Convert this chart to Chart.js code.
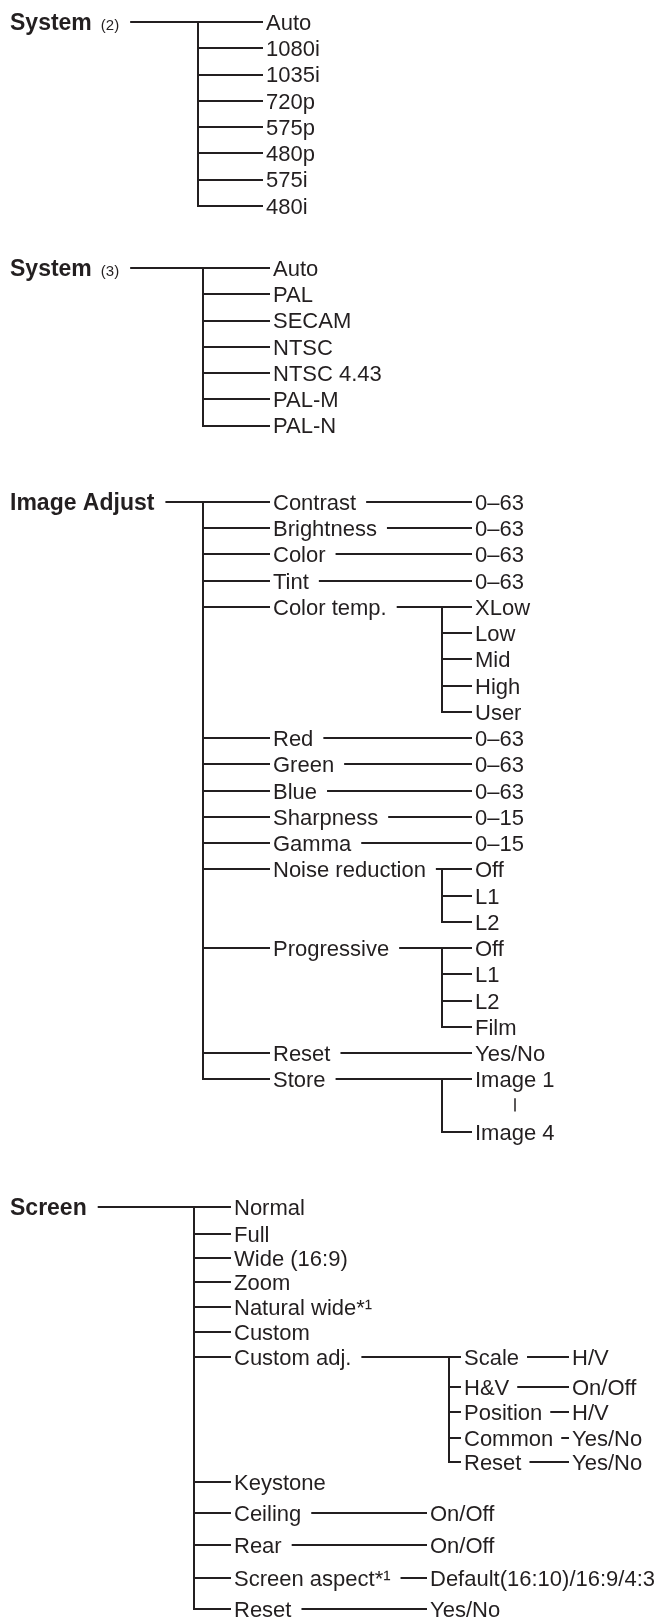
<!DOCTYPE html>
<html>
<head>
<meta charset="utf-8">
<script src="https://cdn.jsdelivr.net/npm/chart.js@4.4.0/dist/chart.umd.min.js"></script>
<style>
  html, body { margin: 0; padding: 0; background: #fff; }
  #wrap { width: 664px; height: 1618px; position: relative; }
</style>
</head>
<body>
<div id="wrap"><canvas id="menuChart"></canvas></div>
<script>
// menu headings (rows are in line units)
const menuTitles = ['System', 'System', 'Image Adjust', 'Screen'];
const menuNotes = ['(2)', '(3)', '', ''];
const menuRows = [0.84, 10.21, 19.12, 45.98];

// System (2)
const system2Items = ['Auto', '1080i', '1035i', '720p', '575p', '480p', '575i', '480i'];

// System (3)
const system3Items = ['Auto', 'PAL', 'SECAM', 'NTSC', 'NTSC 4.43', 'PAL-M', 'PAL-N'];

// Image Adjust
const imageItems = ['Contrast', 'Brightness', 'Color', 'Tint', 'Color temp.', 'Red', 'Green', 'Blue',
    'Sharpness', 'Gamma', 'Noise reduction', 'Progressive', 'Reset', 'Store'];
const imageRows = [0, 1, 2, 3, 4, 9, 10, 11, 12, 13, 14, 17, 21, 22];
const imageValues = [
    ['0–63'], ['0–63'], ['0–63'], ['0–63'],
    ['XLow', 'Low', 'Mid', 'High', 'User'],
    ['0–63'], ['0–63'], ['0–63'], ['0–15'], ['0–15'],
    ['Off', 'L1', 'L2'],
    ['Off', 'L1', 'L2', 'Film'],
    ['Yes/No'],
    ['Image 1', '|', 'Image 4']
];

// Screen
const screenItems = ['Normal', 'Full', 'Wide (16:9)', 'Zoom', 'Natural wide*¹', 'Custom', 'Custom adj.',
    'Keystone', 'Ceiling', 'Rear', 'Screen aspect*¹', 'Reset'];
const screenRows = [0, 1.03, 1.94, 2.86, 3.81, 4.76, 5.71, 10.48, 11.66, 12.88, 14.13, 15.31];
const screenValues = [[], [], [], [], [], [], [], [], ['On/Off'], ['On/Off'], ['Default(16:10)/16:9/4:3'], ['Yes/No']];
const customAdjItems = ['Scale', 'H&V', 'Position', 'Common', 'Reset'];
const customAdjRows = [0, 1.15, 2.1, 3.1, 4.0];
const customAdjValues = ['H/V', 'On/Off', 'H/V', 'Yes/No', 'Yes/No'];

// layout: column positions on the x scale, one set per menu
const columns = [
    { trunk: 198, label: 266 },
    { trunk: 203, label: 273 },
    { trunk: 203, label: 273, subTrunk: 442, subLabel: 475 },
    { trunk: 194, label: 234, valueLabel: 430, subTrunk: 449, subLabel: 464, leafLabel: 572 }
];
const HEAD_X = 10;
const ROW_PX = 26.25;
const INK = '#231f20';
const FONT = '"Liberation Sans", Arial, Helvetica, sans-serif';

const nodes = [];
const links = [];
const ticks = [];

function addNode(x, y, text, opts) {
    const o = opts || {};
    nodes.push({ x: x, y: y, text: text, size: o.size || 22, bold: !!o.bold, after: o.after, pad: o.pad || 0 });
    return nodes.length - 1;
}

// children hang off a trunk; the first child continues the parent's line
function addBranch(parent, items, rows, base, trunkX, labelX, gap) {
    const ids = [];
    let first = null, last = null;
    items.forEach((t, j) => {
        const y = base + (rows ? rows[j] : j);
        if (t === '|') {
            ticks.push({ node: ids[ids.length - 1], y1: y - 0.28, y2: y + 0.22 });
            return;
        }
        const id = addNode(labelX, y, t);
        if (first === null) {
            links.push({ type: 'h', from: parent, gap: gap || 10, x2: labelX - 3, y: y });
            first = y;
        } else {
            links.push({ type: 'h', x1: trunkX, x2: labelX - 3, y: y });
        }
        last = y;
        ids.push(id);
    });
    if (last !== first) links.push({ type: 'v', x: trunkX, y1: first, y2: last });
    return ids;
}

const sectionItems = [system2Items, system3Items, imageItems, screenItems];
const sectionRows = [null, null, imageRows, screenRows];

menuTitles.forEach((title, i) => {
    const col = columns[i];
    let anchor = addNode(HEAD_X, menuRows[i], title, { size: 23, bold: true });
    if (menuNotes[i]) {
        anchor = addNode(HEAD_X, menuRows[i], menuNotes[i], { size: 15, after: anchor, pad: 9 });
    }
    const ids = addBranch(anchor, sectionItems[i], sectionRows[i], menuRows[i], col.trunk, col.label, 11);

    if (i === 2) {
        ids.forEach((id, k) => {
            addBranch(id, imageValues[k], null, menuRows[i] + imageRows[k], col.subTrunk, col.subLabel);
        });
    }
    if (i === 3) {
        ids.forEach((id, k) => {
            const row = menuRows[i] + screenRows[k];
            if (screenItems[k] === 'Custom adj.') {
                const subIds = addBranch(id, customAdjItems, customAdjRows, row, col.subTrunk, col.subLabel);
                subIds.forEach((sid, m) => {
                    addBranch(sid, [customAdjValues[m]], null, row + customAdjRows[m], 0, col.leafLabel, 8);
                });
            } else if (screenValues[k].length) {
                addBranch(id, screenValues[k], null, row, 0, col.valueLabel);
            }
        });
    }
});

const treePlugin = {
    id: 'menuTree',
    afterDatasetsDraw(chart) {
        const ctx = chart.ctx;
        const xs = chart.scales.x;
        const ys = chart.scales.y;
        const meta = chart.getDatasetMeta(0);
        const pos = [];
        const lw = 2;

        ctx.save();
        ctx.fillStyle = INK;
        ctx.strokeStyle = INK;
        ctx.lineWidth = lw;
        ctx.lineCap = 'butt';
        ctx.textBaseline = 'alphabetic';
        ctx.textAlign = 'left';

        nodes.forEach((n, i) => {
            const el = meta.data[i];
            ctx.font = (n.bold ? 'bold ' : '') + n.size + 'px ' + FONT;
            const px = n.after !== undefined ? pos[n.after].end + n.pad : el.x;
            const py = el.y;
            ctx.fillText(n.text, px, py + 0.36 * 22);
            const w = ctx.measureText(n.text).width;
            pos.push({ x: px, end: px + w, mid: px + w / 2 });
        });

        links.forEach(l => {
            ctx.beginPath();
            if (l.type === 'h') {
                const py = Math.round(ys.getPixelForValue(l.y));
                const x2 = xs.getPixelForValue(l.x2);
                let x1 = l.from !== undefined ? pos[l.from].end + l.gap : xs.getPixelForValue(l.x1) - lw / 2;
                x1 = Math.min(x1, x2 - 6);
                ctx.moveTo(x1, py);
                ctx.lineTo(x2, py);
            } else {
                const px = Math.round(xs.getPixelForValue(l.x));
                ctx.moveTo(px, Math.round(ys.getPixelForValue(l.y1)) - lw / 2);
                ctx.lineTo(px, Math.round(ys.getPixelForValue(l.y2)) + lw / 2);
            }
            ctx.stroke();
        });

        ctx.lineWidth = 1.5;
        ticks.forEach(t => {
            const px = Math.round(pos[t.node].mid);
            ctx.beginPath();
            ctx.moveTo(px, ys.getPixelForValue(t.y1));
            ctx.lineTo(px, ys.getPixelForValue(t.y2));
            ctx.stroke();
        });
        ctx.restore();
    }
};

const canvas = document.getElementById('menuChart');
new Chart(canvas.getContext('2d'), {
    type: 'scatter',
    data: {
        datasets: [{
            data: nodes.map(n => ({ x: n.x, y: n.y })),
            pointRadius: 0,
            pointHoverRadius: 0
        }]
    },
    options: {
        responsive: true,
        maintainAspectRatio: false,
        animation: false,
        events: [],
        layout: { padding: 0 },
        plugins: { legend: { display: false }, tooltip: { enabled: false } },
        scales: {
            x: { type: 'linear', min: 0, max: 664, display: false },
            y: { type: 'linear', min: 0, max: 1618 / ROW_PX, reverse: true, display: false }
        }
    },
    plugins: [treePlugin]
});
</script>
</body>
</html>
